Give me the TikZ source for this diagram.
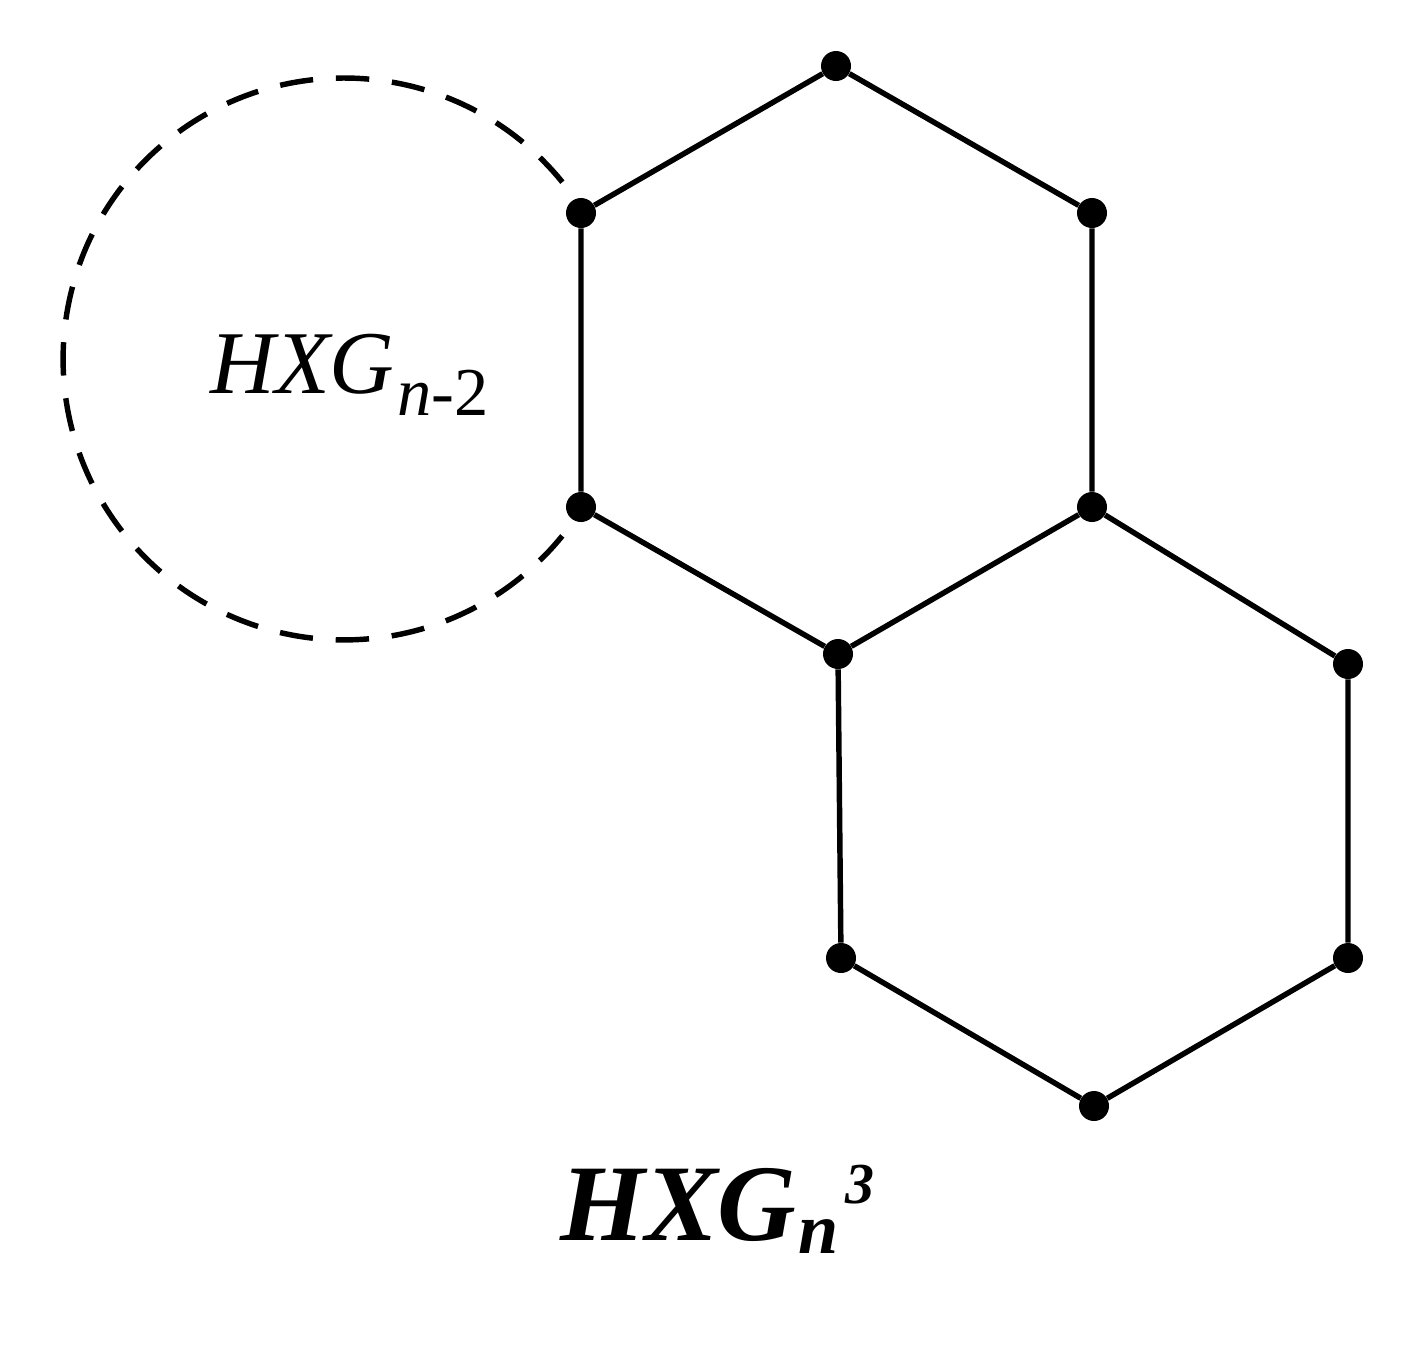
\documentclass[tikz,border=0pt]{standalone}
\usepackage{fontspec}
\setmainfont{Liberation Serif}
\begin{document}
\begin{tikzpicture}[x=0.02cm,y=-0.02cm,
  vtx/.style={circle,fill=black,inner sep=0pt,minimum size=0.6cm},
  edge/.style={line width=3.1pt},
  dashcirc/.style={line width=3.1pt,dash pattern=on 19pt off 13pt}]
\useasboundingbox (0,0) rectangle (1413,1357);
\node[vtx] (A) at (836,66) {};
\node[vtx] (B) at (581,213) {};
\node[vtx] (C) at (1092,213) {};
\node[vtx] (D) at (581,507) {};
\node[vtx] (E) at (1092,507) {};
\node[vtx] (F) at (838,654) {};
\node[vtx] (G) at (1348,664) {};
\node[vtx] (H) at (841,958) {};
\node[vtx] (I) at (1348,958) {};
\node[vtx] (J) at (1094,1106) {};
\draw[edge] (A) -- (B) (A) -- (C) (B) -- (D) (C) -- (E) (D) -- (F) (F) -- (E)
  (E) -- (G) (F) -- (H) (G) -- (I) (H) -- (J) (I) -- (J);
\coordinate (cc) at (344,359);
\draw[dashcirc] ([shift={(-39:281)}]cc) arc[start angle=39,end angle=325,radius=5.62cm];
\node[anchor=base west,inner sep=0pt] (lab1) at (210,393)
  {\fontsize{51pt}{51pt}\selectfont\itshape HXG\kern0.05cm\raisebox{-0.44cm}{\fontsize{39pt}{39pt}\selectfont n\upshape -2}};
\node[anchor=base west,inner sep=0pt] (lab2) at (560,1240)
  {\fontsize{62pt}{62pt}\selectfont\bfseries\itshape HXG\kern0.05cm\raisebox{-0.26cm}{\fontsize{41pt}{41pt}\selectfont n}\kern0.14cm\raisebox{0.74cm}{\fontsize{33pt}{33pt}\selectfont 3}};
\end{tikzpicture}
\end{document}
